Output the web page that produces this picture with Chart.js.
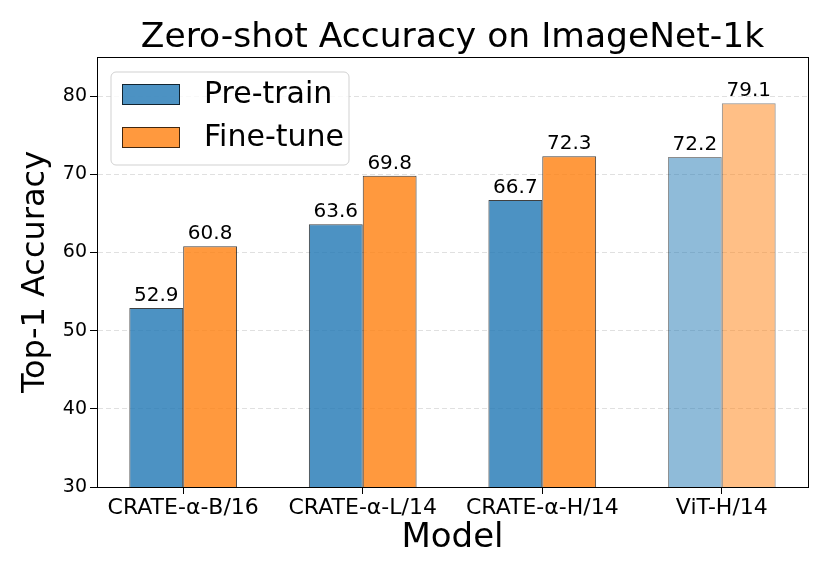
<meta charset="UTF-8">
<html>
<head>
<title>Zero-shot Accuracy</title>
<script src="https://cdn.jsdelivr.net/npm/chart.js@4.4.0/dist/chart.umd.min.js"></script>
<style>
    body { margin: 0; background: #fff; }
    .chart-box { position: relative; width: 830px; height: 581px; }
</style>
</head>
<body>
<div class="chart-box"><canvas id="accCanvas"></canvas></div>
<script>
    // data
    const models = ['CRATE-α-B/16', 'CRATE-α-L/14', 'CRATE-α-H/14', 'ViT-H/14'];
    const preTrain = [52.9, 63.6, 66.7, 72.2];
    const fineTune = [60.8, 69.8, 72.3, 79.1];
    const yTicks = [30, 40, 50, 60, 70, 80];

    const FONT = 'DejaVu Sans';

    // last group (ViT) is drawn lighter
    const fade = (rgb, n) => models.map((m, i) => 'rgba(' + rgb + ',' + (i == n - 1 ? 0.5 : 0.8) + ')');
    const edge = models.map((m, i) => i == models.length - 1 ? 'rgba(0,0,0,0.45)' : 'rgba(0,0,0,0.75)');

    // value labels over each bar
    const barValues = {
        id: 'barValues',
        afterDatasetsDraw(chart) {
            const ctx = chart.ctx;
            ctx.save();
            ctx.font = '20px ' + FONT;
            ctx.fillStyle = '#000';
            ctx.textAlign = 'center';
            ctx.textBaseline = 'alphabetic';
            chart.data.datasets.forEach((ds, d) => {
                chart.getDatasetMeta(d).data.forEach((bar, i) => {
                    ctx.fillText(ds.data[i].toFixed(1), bar.x, bar.y - 7);
                });
            });
            ctx.restore();
        }
    };

    // box around the plot + legend inside the upper left corner
    const frameLegend = {
        id: 'frameLegend',
        afterDraw(chart) {
            const ctx = chart.ctx;
            const a = chart.chartArea;
            ctx.save();
            ctx.strokeStyle = '#000';
            ctx.lineWidth = 1;
            ctx.strokeRect(a.left + 0.5, a.top + 0.5, a.right - a.left, a.bottom - a.top);

            const x = a.left + 14, y = a.top + 15, w = 238, h = 93;
            ctx.beginPath();
            ctx.roundRect(x, y, w, h, 5);
            ctx.fillStyle = 'rgba(255,255,255,0.8)';
            ctx.fill();
            ctx.strokeStyle = 'rgba(204,204,204,0.9)';
            ctx.stroke();

            ctx.font = '30px ' + FONT;
            ctx.textBaseline = 'middle';
            chart.data.datasets.forEach((ds, d) => {
                const py = y + 12 + d * 43;
                ctx.fillStyle = ds.backgroundColor[0];
                ctx.fillRect(x + 11, py, 58, 21);
                ctx.strokeStyle = ds.borderColor[0];
                ctx.strokeRect(x + 11.5, py + 0.5, 57, 20);
                ctx.fillStyle = '#000';
                ctx.fillText(ds.label, x + 93, py + 11);
            });
            ctx.restore();
        }
    };

    new Chart(document.getElementById('accCanvas'), {
        type: 'bar',
        data: {
            labels: models,
            datasets: [
                {
                    label: 'Pre-train',
                    data: preTrain,
                    backgroundColor: fade('31,119,180', models.length),
                    borderColor: edge,
                    borderWidth: 1,
                    borderSkipped: false
                },
                {
                    label: 'Fine-tune',
                    data: fineTune,
                    backgroundColor: fade('255,127,14', models.length),
                    borderColor: edge,
                    borderWidth: 1,
                    borderSkipped: false
                }
            ]
        },
        options: {
            responsive: true,
            maintainAspectRatio: false,
            animation: false,
            categoryPercentage: 0.6,
            barPercentage: 1.0,
            layout: { padding: { left: 0, right: 22, top: 0, bottom: 0 } },
            plugins: {
                legend: { display: false },
                tooltip: { enabled: false },
                title: {
                    display: true,
                    fullSize: false,
                    text: 'Zero-shot Accuracy on ImageNet-1k',
                    color: '#000',
                    font: { family: FONT, size: 34.5, weight: 'normal', lineHeight: 1 },
                    padding: { top: 21, bottom: 1.5 }
                }
            },
            scales: {
                x: {
                    // matplotlib-like margins: bars span -0.3..3.3, 5% padding each side
                    afterBuildTicks: (s) => { s._startValue = -0.48; s._valueRange = 3.96; },
                    grid: {
                        offset: false,
                        drawOnChartArea: false,
                        drawTicks: true,
                        tickLength: 7,
                        tickColor: '#000'
                    },
                    border: { display: true, color: '#000', width: 1 },
                    ticks: {
                        color: '#000',
                        padding: 1,
                        maxRotation: 0,
                        font: { family: FONT, size: 22 }
                    },
                    title: {
                        display: true,
                        text: 'Model',
                        color: '#000',
                        font: { family: FONT, size: 34, lineHeight: 1 },
                        padding: { top: 0, bottom: 26 }
                    },
                    afterFit: (s) => { s.height = 94; }
                },
                y: {
                    min: 30,
                    max: 85,
                    afterBuildTicks: (s) => { s.ticks = yTicks.map(v => ({ value: v })); },
                    grid: {
                        color: 'rgba(0,0,0,0.12)',
                        lineWidth: 1,
                        drawTicks: true,
                        tickLength: 7,
                        tickColor: '#000',
                        tickBorderDash: []
                    },
                    border: { display: true, color: '#000', width: 1, dash: [5, 3] },
                    ticks: {
                        color: '#000',
                        padding: 3,
                        font: { family: FONT, size: 19 }
                    },
                    title: {
                        display: true,
                        text: 'Top-1 Accuracy',
                        color: '#000',
                        font: { family: FONT, size: 32, lineHeight: 1 },
                        padding: { top: 20, bottom: 0 }
                    },
                    afterFit: (s) => { s.width = 97; }
                }
            }
        },
        plugins: [barValues, frameLegend]
    });
</script>
</body>
</html>
